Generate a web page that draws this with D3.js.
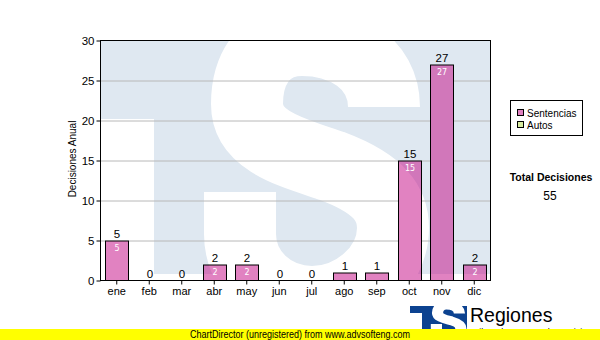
<!DOCTYPE html>
<html><head><meta charset="utf-8">
<script src="https://cdn.jsdelivr.net/npm/d3@7/dist/d3.min.js"></script>
<style>body{margin:0;background:#fff}svg{display:block}</style>
</head><body>
<script>
const months = ["ene","feb","mar","abr","may","jun","jul","ago","sep","oct","nov","dic"];
const sentencias = [5,0,0,2,2,0,0,1,1,15,27,2];
const autos = [0,0,0,0,0,0,0,0,0,0,0,0];
const yTicks = [0,5,10,15,20,25,30];
const legendItems = ["Sentencias","Autos"];
const totalLabel = "Total Decisiones";
const total = 55;

const W=600,H=340;
const svg=d3.select("body").append("svg").attr("width",W).attr("height",H);
const L=100.5,R=490.5,T=40.5,B=280.5;
const x=d3.scaleBand().domain(months).range([L,R]).paddingInner(0.28).paddingOuter(0.14);
const y=d3.scaleLinear().domain([0,30]).range([B,T]);

// S centre-line path (watermark logo)
const sPath="M384,107 C384,62 342,40 302,40 C262,40 247,72 247,104 C247,142 294,153 332,166 C380,184 393,204 393,228 C393,270 352,302 312,302 C272,302 240,272 240,234 L240,192";

const defs=svg.append("defs");
defs.append("clipPath").attr("id","pc").append("rect").attr("x",L).attr("y",T).attr("width",R-L).attr("height",274-T);
const wm=svg.append("g").attr("clip-path","url(#pc)");
const wmc="#dfe8f1";
wm.append("rect").attr("x",L).attr("y",T).attr("width",R-L).attr("height",119-T).attr("fill",wmc);
wm.append("rect").attr("x",154).attr("y",T).attr("width",R-154).attr("height",274-T).attr("fill",wmc);
wm.append("path").attr("d",sPath).attr("fill","none").attr("stroke","#fff").attr("stroke-width",72);

const bw=x.bandwidth();
const bars=months.map((m,i)=>({m,v:sentencias[i],x0:Math.round(x(m))+0.5,w:Math.round(bw)}));

// mask so grid lines do not show through bars
const mask=defs.append("mask").attr("id","gm").attr("maskUnits","userSpaceOnUse").attr("x",0).attr("y",0).attr("width",W).attr("height",H);
mask.append("rect").attr("x",0).attr("y",0).attr("width",W).attr("height",H).attr("fill","#fff");
mask.selectAll("rect.b").data(bars.filter(d=>d.v>0)).join("rect").attr("class","b")
 .attr("x",d=>d.x0).attr("y",d=>y(d.v)).attr("width",d=>d.w).attr("height",d=>B-y(d.v)).attr("fill","#000");

// grid
svg.append("g").attr("mask","url(#gm)").selectAll("line").data(yTicks.filter(d=>d>0&&d<30)).join("line")
 .attr("x1",L).attr("x2",R).attr("y1",d=>Math.round(y(d))).attr("y2",d=>Math.round(y(d)))
 .attr("stroke","#b8b8b8").attr("stroke-width",1);

// bars
const gb=svg.append("g");
bars.forEach(d=>{
  if(d.v>0){
    gb.append("rect").attr("x",d.x0).attr("y",Math.round(y(d.v))).attr("width",d.w).attr("height",B-Math.round(y(d.v)))
      .attr("fill","rgba(195,5,132,0.5)").attr("stroke","#000").attr("stroke-width",1);
    if(B-y(d.v)>12){
      gb.append("text").attr("x",d.x0+d.w/2).attr("y",y(d.v)+10).attr("text-anchor","middle")
        .attr("font-family","DejaVu Sans").attr("font-size",8).attr("fill","#fff").text(d.v);
    }
  }
  gb.append("text").attr("x",d.x0+d.w/2).attr("y",y(d.v)-3).attr("text-anchor","middle")
    .attr("font-family","Liberation Sans, Arial").attr("font-size",11.5).attr("fill","#000").text(d.v);
});

// frame
svg.append("rect").attr("x",L).attr("y",T).attr("width",R-L).attr("height",B-T).attr("fill","none").attr("stroke","#000");

// y axis
const ya=svg.append("g").attr("transform",`translate(${L},0)`).call(d3.axisLeft(y).tickValues(yTicks).tickSize(4).tickPadding(2));
ya.select(".domain").remove();
ya.selectAll("text").attr("font-family","Liberation Sans, Arial").attr("font-size",11.5).attr("fill","#000");
ya.selectAll("line").attr("stroke","#000");
// x axis
const xa=svg.append("g").attr("transform",`translate(0,${B})`).call(d3.axisBottom(x).tickSize(4).tickPadding(3));
xa.select(".domain").remove();
xa.selectAll("text").attr("font-family","Liberation Sans, Arial").attr("font-size",11).attr("fill","#000");
xa.selectAll("line").attr("stroke","#000");

svg.append("text").attr("transform","translate(76,159) rotate(-90)").attr("text-anchor","middle")
 .attr("font-family","Liberation Sans, Arial").attr("font-size",10).text("Decisiones Anual");

// legend
svg.append("rect").attr("x",510.5).attr("y",100.5).attr("width",72).attr("height",35).attr("fill","#fff").attr("stroke","#000");
const lc=["#e080c0","#d8eca0"];
legendItems.forEach((t,i)=>{
  svg.append("rect").attr("x",517.5).attr("y",109.5+i*12).attr("width",6).attr("height",6).attr("fill",lc[i]).attr("stroke","#000");
  svg.append("text").attr("x",527).attr("y",117+i*12).attr("font-family","Liberation Sans, Arial").attr("font-size",10).text(t);
});
svg.append("text").attr("x",551).attr("y",181).attr("text-anchor","middle").attr("font-family","Liberation Sans, Arial").attr("font-weight","bold").attr("font-size",10.5).text(totalLabel);
svg.append("text").attr("x",550).attr("y",200).attr("text-anchor","middle").attr("font-family","Liberation Sans, Arial").attr("font-size",12).text(total);

// small logo
defs.append("clipPath").attr("id","lc").append("rect").attr("x",410).attr("y",306).attr("width",57).attr("height",30);
const lg=svg.append("g").attr("clip-path","url(#lc)");
const navy="#0c4290";
lg.append("rect").attr("x",410).attr("y",306).attr("width",57).attr("height",7).attr("fill",navy);
lg.append("rect").attr("x",422).attr("y",306).attr("width",45).attr("height",30).attr("fill",navy);
lg.append("path").attr("d",sPath).attr("fill","none").attr("stroke","#fff").attr("stroke-width",70)
  .attr("transform","translate(398,300) scale(0.16,0.125)");
svg.append("text").attr("x",470).attr("y",322).attr("font-family","Liberation Sans, Arial").attr("font-size",19.5).text("Regiones");
svg.append("text").attr("x",471).attr("y",334.5).attr("font-family","Liberation Sans, Arial").attr("font-size",9).text("Tribunal Supremo de Justicia");

// banner
svg.append("rect").attr("x",0).attr("y",329).attr("width",W).attr("height",11).attr("fill","#ffff00");
svg.append("text").attr("x",300).attr("y",338).attr("text-anchor","middle").attr("font-family","Liberation Sans, Arial").attr("font-size",10)
  .attr("textLength",220).attr("lengthAdjust","spacingAndGlyphs").text("ChartDirector (unregistered) from www.advsofteng.com");
</script>
</body></html>
